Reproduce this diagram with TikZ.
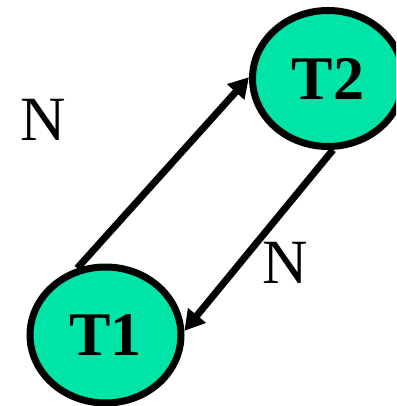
\documentclass[tikz,border=0pt]{standalone}
\usepackage{fontspec}
\setmainfont{Liberation Serif}
\usetikzlibrary{shapes.geometric,arrows.meta}
\definecolor{tgreen}{RGB}{0,228,168}
\tikzset{
  state/.style={ellipse, draw=black, fill=tgreen, line width=7pt,
    minimum width=151pt, minimum height=136pt, inner sep=0pt,
    font=\fontsize{62}{62}\selectfont\bfseries},
  conn/.style={line width=7pt, -{Triangle[length=20pt,width=22pt]}},
  lbl/.style={font=\fontsize{63}{63}\selectfont, inner sep=0pt}
}
\begin{document}
\begin{tikzpicture}[x=1pt,y=1pt]
\clip (0,0) rectangle (396,-406);
\node[state] (t1) at (105.5,-335) {T1};
\node[state] (t2) at (328,-78.5) {T2};
\node[lbl] (n1) at (43,-120) {N};
\node[lbl] (n2) at (285,-263) {N};
\draw[conn] (t1.113) -- (t2.179);
\draw[conn] (t2.274) -- (t1.3);
\end{tikzpicture}
\end{document}
